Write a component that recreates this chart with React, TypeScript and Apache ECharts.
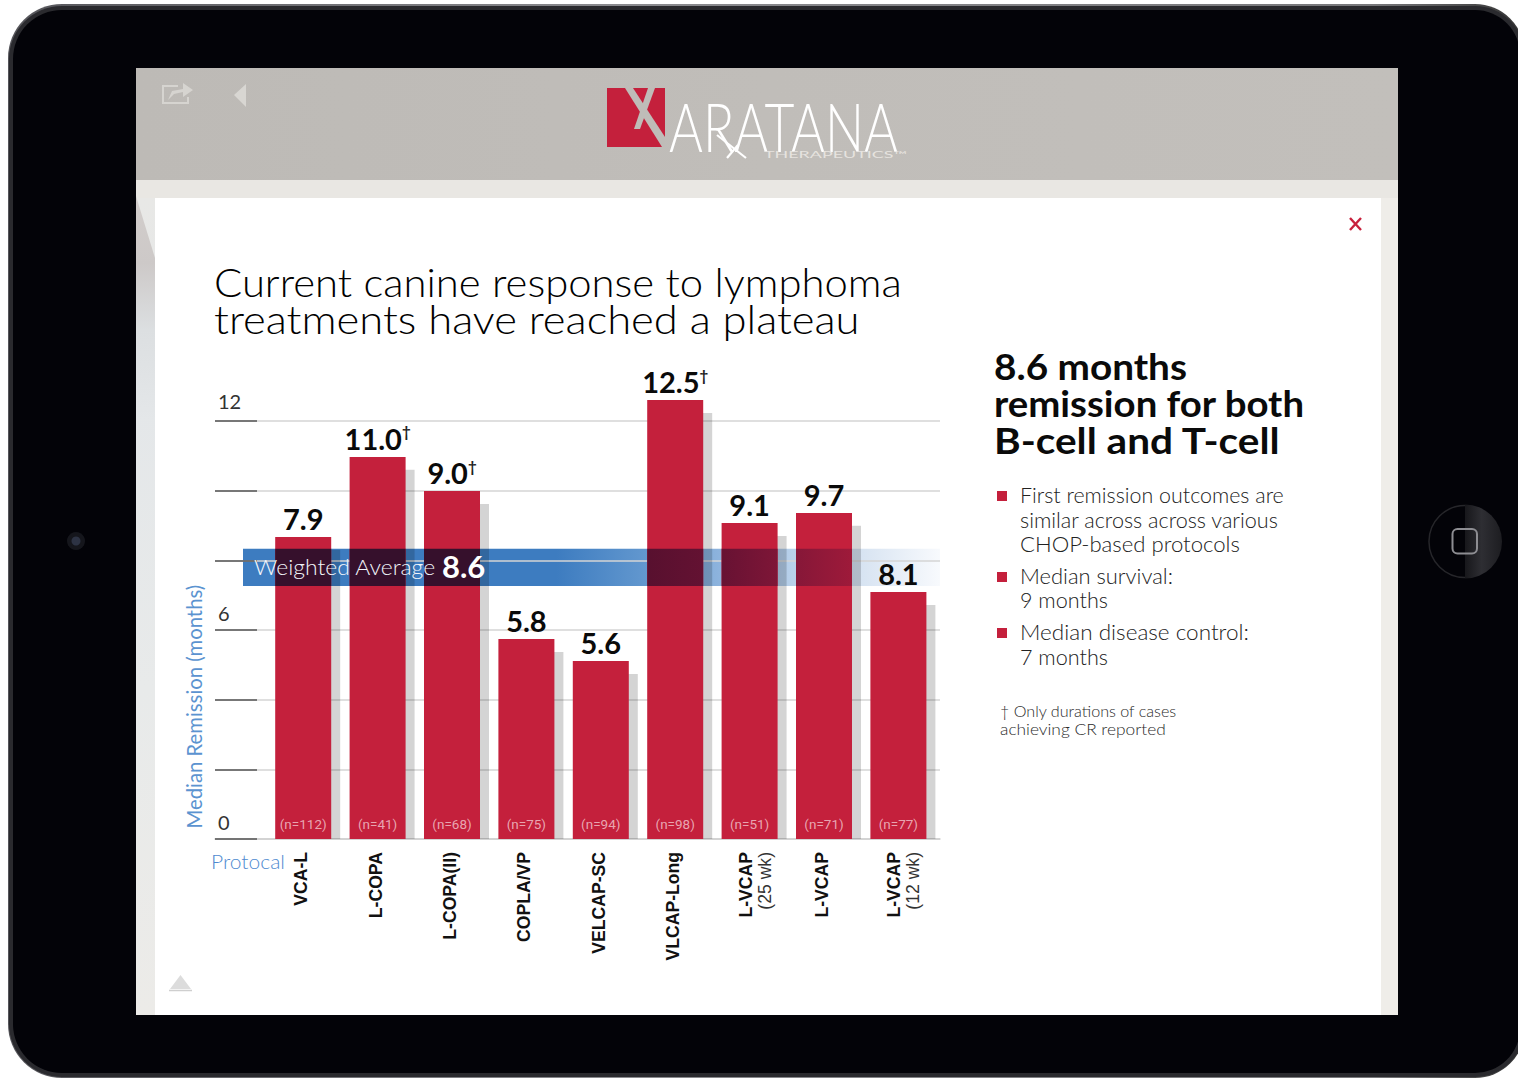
import React, { useEffect, useRef } from "react";
import * as echarts from "echarts";

const categories = ["VCA-L", "L-COPA", "L-COPA(II)", "COPLA/VP", "VELCAP-SC", "VLCAP-Long", "L-VCAP\n(25 wk)", "L-VCAP", "L-VCAP\n(12 wk)"];
const barHeights = [8.67, 10.97, 9.99, 5.74, 5.11, 12.6, 9.07, 9.36, 7.09];
const shadowHeights = [8.3, 10.6, 9.62, 5.37, 4.74, 12.23, 8.7, 8.99, 6.72];
const valueLabels = ["7.9", "11.0", "9.0", "5.8", "5.6", "12.5", "9.1", "9.7", "8.1"];
const daggerFlags = [false, true, true, false, false, true, false, false, false];
const sampleLabels = ["(n=112)", "(n=41)", "(n=68)", "(n=75)", "(n=94)", "(n=98)", "(n=51)", "(n=71)", "(n=77)"];
const yTickValues = [0, 2, 4, 6, 8, 10, 12];
const yLabelValues = [0, 6, 12];
const bandBounds = [8.33, 7.26];
const bandLabel = "Weighted Average";
const bandValue = "8.6";
const titleLines = ["Current canine response to lymphoma", "treatments have reached a plateau"];
const headlineLines = ["8.6 months", "remission for both", "B-cell and T-cell"];
const bulletLines = [
  "First remission outcomes are",
  "similar across across various",
  "CHOP-based protocols",
  "Median survival:",
  "9 months",
  "Median disease control:",
  "7 months",
];
const bulletStarts = [0, 3, 5];
const footnoteLines = ["† Only durations of cases", "achieving CR reported"];

const FONT = "Lato";
const RED = "#c4203c";
const BLUE = "#3d7cc0";
const BAR_W = 56;
const titleWidths = [688, 646];
const headlineWidths = [193, 311, 287];
const bulletWidths = [264, 259, 220, 153, 88, 229, 88];
const bulletYs = [495, 520, 544, 576, 600, 632, 657];
const footnoteWidths = [177, 166];

const measureCtx = document.createElement("canvas").getContext("2d") as CanvasRenderingContext2D;
const fitScale = (text: string, fontSize: number, weight: any, width: number) => {
  measureCtx.font = `${weight} ${fontSize}px ${FONT}`;
  return width / measureCtx.measureText(text).width;
};

const T = (text: string, x: number, y: number, fontSize: number, fill: string, extra: any = {}) => {
  const { width, fontWeight = "normal", align = "left" } = extra;
  return {
    type: "text", x, y, scaleX: width ? fitScale(text, fontSize, fontWeight, width) : 1,
    style: { text, x: 0, y: 0, fontSize, fill, fontFamily: FONT, fontWeight, align, verticalAlign: "middle" },
  };
};
const L = (x1: number, y1: number, x2: number, y2: number, stroke: string, lineWidth: number) => ({
  type: "line", shape: { x1, y1, x2, y2 }, style: { stroke, lineWidth },
});
const R = (x: number, y: number, width: number, height: number, fill: any, r: any = 0) => ({
  type: "rect", shape: { x, y, width, height, r }, style: { fill },
});
const vGrad = (stops: [number, string][]) => ({ type: "linear", x: 0, y: 0, x2: 0, y2: 1, colorStops: stops.map(([offset, color]) => ({ offset, color })) });
const hGrad = (stops: [number, string][]) => ({ type: "linear", x: 0, y: 0, x2: 1, y2: 0, colorStops: stops.map(([offset, color]) => ({ offset, color })) });

const background: any[] = [
  // device body
  R(8, 4, 1517, 1074, hGrad([[0, "#55555a"], [0.4, "#8a8a8e"], [0.9, "#77777a"], [1, "#333"]]), [54, 50, 50, 54]),
  R(9, 6, 1515, 1071, "#2a2a2e", [53, 49, 49, 53]),
  R(13, 10, 1507, 1063, "#030308", [49, 45, 45, 49]),
  // screen wallpaper
  R(136, 68, 1262, 947, "#eceae6"),
  R(136, 68, 1262, 112, hGrad([[0, "#bdbab6"], [0.5, "#c0bdb9"], [1, "#c2bfbb"]])),
  R(136, 180, 1262, 18, "#e9e7e3"),
  R(136, 198, 20, 817, vGrad([[0, "#e8e8e6"], [0.25, "#e4e7e9"], [0.6, "#e8eaea"], [1, "#ecebe8"]])),
  { type: "polygon", shape: { points: [[136, 196], [155, 258], [155, 420], [136, 420]] }, style: { fill: vGrad([[0, "#d2cdcb"], [0.3, "#cdc9c8"], [0.6, "#dcdfe1"], [1, "#e4e7e9"]]) } },
  R(1381, 198, 17, 817, "#efede9"),
  R(155, 198, 1226, 817, "#ffffff"),
  // top bar icons
  { type: "polyline", shape: { points: [[178, 86], [163, 86], [163, 103], [188, 103], [188, 97]] }, style: { stroke: "#d6d4d0", lineWidth: 2, fill: "none" } },
  { type: "polygon", shape: { points: [[168, 100], [172, 91], [183, 89], [183, 83], [193, 90], [183, 97], [183, 92], [174, 94]] }, style: { fill: "#d6d4d0" } },
  { type: "polygon", shape: { points: [[234, 95], [246, 84], [246, 107]] }, style: { fill: "#d8d6d2" } },
  // logo
  R(607, 88, 58, 59, RED),
  { type: "polygon", shape: { points: [[625, 88], [633, 88], [665, 137], [665, 147], [662, 147]] }, style: { fill: "#bfbcb8" } },
  { type: "polygon", shape: { points: [[648, 88], [655, 88], [640, 129], [634, 129]] }, style: { fill: "#bfbcb8" } },
  T("ARATANA", 669, 126, 66, "#ffffff", { fontWeight: 300, width: 229 }),
  L(717, 135, 746, 158, "#ffffff", 2.2),
  L(727, 158, 738, 145, "#ffffff", 2.2),
  T("THERAPEUTICS™", 764, 154, 9.5, "#e6e3df", { width: 143 }),
  // close and scroll marks
  L(1350, 218, 1361, 230, "#c8203c", 2.4),
  L(1361, 218, 1350, 230, "#c8203c", 2.4),
  { type: "polygon", shape: { points: [[170, 989], [191, 989], [180.5, 975]] }, style: { fill: "#dcdcdc" } },
  L(169, 990.5, 192, 990.5, "#cfcfcf", 1.5),
  // camera
  { type: "circle", shape: { cx: 76, cy: 541, r: 9 }, style: { fill: "#15161c" } },
  { type: "circle", shape: { cx: 76, cy: 541, r: 4.5 }, style: { fill: "#2d3344" } },
  // home button
  { type: "arc", shape: { cx: 1465, cy: 541.5, r: 36, startAngle: Math.PI / 2, endAngle: (3 * Math.PI) / 2 }, style: { stroke: "#26262a", lineWidth: 1.5, fill: "none" } },
  { type: "sector", shape: { cx: 1465, cy: 541.5, r0: 0, r: 37, startAngle: -Math.PI / 2, endAngle: Math.PI / 2 }, style: { fill: hGrad([[0, "#17171b"], [0.45, "#2e2e33"], [1, "#1d1d21"]]) } },
  { type: "rect", shape: { x: 1452.5, y: 529, width: 24.5, height: 24.5, r: 5 }, style: { stroke: "#8d8d92", lineWidth: 2, fill: "none" } },
  // headings and side text
  ...titleLines.map((s, i) => T(s, 214, 282 + i * 37, 40, "#000000", { fontWeight: 300, width: titleWidths[i] })),
  ...headlineLines.map((s, i) => T(s, 994, 366 + i * 37, 37, "#0a0a0a", { fontWeight: "bold", width: headlineWidths[i] })),
  ...bulletLines.map((s, i) => T(s, 1020, bulletYs[i], 21, "#222222", { fontWeight: 300, width: bulletWidths[i] })),
  ...bulletStarts.map((i) => R(997, bulletYs[i] - 4, 10, 10, RED)),
  ...footnoteLines.map((s, i) => T(s, 1000, 710 + i * 18.5, 16.5, "#2a2a2a", { fontWeight: 300, width: footnoteWidths[i] })),
  T("Protocal", 211, 861, 20, "#4f8ad0", { fontWeight: 300, width: 74 }),
].map((el) => ({ ...el, z: -100 }));

const bandGlobal = (stops: [number, string][]) =>
  new (echarts.graphic as any).LinearGradient(243, 0, 940, 0, stops.map(([offset, color]) => ({ offset, color })), true);

const bandFill = () =>
  bandGlobal([[0, BLUE], [0.45, BLUE], [0.58, "#6398cf"], [0.69, "#90b5de"], [0.79, "#b9d1ea"], [0.9, "#dbe6f3"], [1, "#f8fafd"]]);
const overlayFill = () =>
  bandGlobal([[0, "#36102c"], [0.35, "#36102c"], [0.58, "#58102f"], [0.69, "#681233"], [0.79, "#851738"], [0.88, "#a01a3a"], [1, "#b01c3c"]]);

function App() {
  const ref = useRef<HTMLDivElement>(null);
  useEffect(() => {
    const chart = echarts.init(ref.current as HTMLDivElement, null, { renderer: "svg" });
    const option: any = {
      animation: false,
      backgroundColor: "#ffffff",
      graphic: { z: -100, elements: background },
      grid: [
        { left: 215, right: 578, top: 351.33, bottom: 239 },
        { left: 266, width: 669.6, top: 351.33, bottom: 239 },
      ],
      xAxis: [
        { gridIndex: 0, type: "value", min: 0, max: 1, position: "top", axisLine: { show: true, lineStyle: { color: "#cfcfcf", width: 1.5 } }, axisTick: { show: false }, axisLabel: { show: false }, splitLine: { show: false } },
        {
          gridIndex: 1, type: "category", data: categories,
          axisLine: { show: false }, axisTick: { show: false }, splitLine: { show: false },
          axisLabel: {
            interval: 0, rotate: 90, margin: 13, align: "right", verticalAlign: "middle",
            formatter: (v: string) => {
              const [a, b] = v.split("\n");
              return b ? `{z| }\n{m2|${a}}\n{s|${b}}` : `{m|${a}}`;
            },
            rich: {
              z: { fontSize: 8, lineHeight: 11 },
              m: { fontFamily: "Liberation Sans", fontWeight: "bold", fontSize: 17.6, color: "#111", lineHeight: 19, align: "right", padding: [0, 0, 4, 0] },
              m2: { fontFamily: "Liberation Sans", fontWeight: "bold", fontSize: 17.6, color: "#111", lineHeight: 19, align: "right" },
              s: { fontFamily: "Liberation Sans", fontSize: 17.6, color: "#333", lineHeight: 19, align: "right" },
            },
          },
        },
      ],
      yAxis: [
        {
          gridIndex: 0, type: "value", min: 0, max: 14, interval: 2,
          name: "Median Remission (months)", nameLocation: "middle", nameRotate: 90, nameGap: 11,
          nameTextStyle: { fontFamily: FONT, fontSize: 20.3, color: "#5b93d0", padding: [0, 223, 0, 0] },
          axisLine: { show: false },
          axisTick: { show: true, inside: true, length: 42, customValues: yTickValues, lineStyle: { color: "#555555", width: 1.5 } },
          splitLine: { show: true, lineStyle: { color: "#d4d4d4", width: 1.5 } },
          axisLabel: {
            inside: true, margin: 3, customValues: yLabelValues, verticalAlign: "bottom", align: "left",
            formatter: (v: number) => (v === 12 ? `{t|${v}}` : `{o|${v}}`),
            rich: {
              t: { fontFamily: FONT, fontSize: 20, color: "#333", padding: [0, 0, 10, 0] },
              o: { fontFamily: FONT, fontSize: 20, color: "#333", padding: [0, 0, 7, 0] },
            },
          },
        },
        { gridIndex: 1, type: "value", min: 0, max: 14, show: false },
      ],
      series: [
        {
          type: "custom", name: "band", z: -1, xAxisIndex: 0, yAxisIndex: 0, silent: true, clip: false,
          encode: { x: 0, y: 1 },
          data: [[(243 - 215) / 725, bandBounds[0], 1, bandBounds[1]]],
          renderItem: (_p: any, api: any) => {
            const a = api.coord([api.value(0), api.value(1)]);
            const b = api.coord([api.value(2), api.value(3)]);
            return { type: "rect", shape: { x: a[0], y: a[1], width: b[0] - a[0], height: b[1] - a[1] }, style: { fill: bandFill() } };
          },
        },
        {
          type: "custom", name: "shadow", z: 1, xAxisIndex: 1, yAxisIndex: 1, silent: true,
          encode: { x: 0, y: 1 },
          data: shadowHeights.map((h, i) => [i, h]),
          renderItem: (_p: any, api: any) => {
            const top = api.coord([api.value(0), api.value(1)]);
            const base = api.coord([api.value(0), 0]);
            return { type: "rect", shape: { x: top[0] - BAR_W / 2 + 9, y: top[1], width: BAR_W, height: base[1] - top[1] }, style: { fill: "rgba(0,0,0,0.17)" } };
          },
        },
        {
          type: "bar", name: "Median remission", z: 2, xAxisIndex: 1, yAxisIndex: 1, barWidth: BAR_W,
          data: barHeights,
          itemStyle: { color: RED },
          label: {
            show: true, position: "top", distance: 4,
            formatter: (p: any) => `{v|${valueLabels[p.dataIndex]}}${daggerFlags[p.dataIndex] ? "{d|†}" : ""}`,
            rich: {
              v: { fontFamily: FONT, fontWeight: "bold", fontSize: 29, color: "#0a0a0a" },
              d: { fontFamily: FONT, fontWeight: "bold", fontSize: 15, color: "#222", padding: [0, 0, 14, 0] },
            },
          },
        },
        {
          type: "custom", name: "bandOverlay", z: 3, xAxisIndex: 1, yAxisIndex: 1, silent: true,
          encode: { x: 0, y: 1 },
          data: barHeights.map((h, i) => [i, h]),
          renderItem: (_p: any, api: any) => {
            if (api.value(1) < bandBounds[1]) return null;
            const top = api.coord([api.value(0), bandBounds[0]]);
            const bottom = api.coord([api.value(0), bandBounds[1]]);
            return { type: "rect", shape: { x: top[0] - BAR_W / 2, y: top[1], width: BAR_W, height: bottom[1] - top[1] }, style: { fill: overlayFill() } };
          },
        },
        {
          type: "scatter", name: "sample size", z: 4, xAxisIndex: 1, yAxisIndex: 1, symbolSize: 0, silent: true,
          data: sampleLabels.map((_, i) => [i, 0.43]),
          label: {
            show: true, position: "inside",
            formatter: (p: any) => sampleLabels[p.dataIndex],
            fontFamily: "Roboto", fontSize: 13.5, color: "#f3c9d0",
          },
        },
        {
          type: "custom", name: "bandLabel", z: 5, xAxisIndex: 0, yAxisIndex: 0, silent: true, clip: false,
          encode: { x: 0, y: 1 },
          data: [[(254 - 215) / 725, (bandBounds[0] + bandBounds[1]) / 2]],
          renderItem: (_p: any, api: any) => {
            const c = api.coord([api.value(0), api.value(1)]);
            return {
              type: "group",
              children: [
                { type: "text", x: c[0], y: c[1] - 1, scaleX: fitScale(bandLabel, 22, 300, 182), style: { text: bandLabel, x: 0, y: 0, fontFamily: FONT, fontWeight: 300, fontSize: 22, fill: "#f2f6fb", verticalAlign: "middle" } },
                { type: "text", x: c[0] + 188, y: c[1] - 1, style: { text: bandValue, x: 0, y: 0, fontFamily: FONT, fontWeight: "bold", fontSize: 31, fill: "#ffffff", verticalAlign: "middle" } },
              ],
            };
          },
        },
      ],
    };
    chart.setOption(option);
    return () => chart.dispose();
  }, []);
  return <div ref={ref} style={{ position: "fixed", left: 0, top: 0, width: 1518, height: 1078 }} />;
}

export default App;
